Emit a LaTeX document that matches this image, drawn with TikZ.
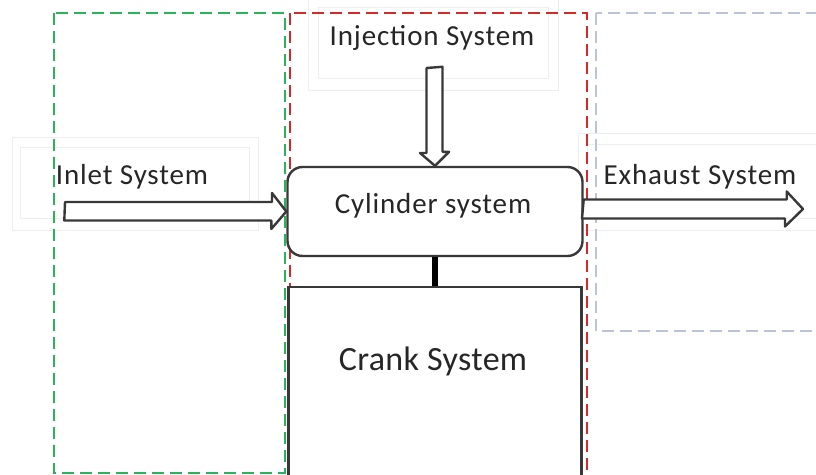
\documentclass[tikz,border=0pt]{standalone}
\usepackage{fontspec}
\setmainfont{Carlito}
\definecolor{grn}{HTML}{2BB35A}
\definecolor{redd}{HTML}{D22A2A}
\definecolor{gblue}{HTML}{BAC4D6}
\definecolor{txt}{HTML}{262626}
\definecolor{faint}{HTML}{EEEEEE}
\tikzset{
  zone/.style={line width=2.6pt, dash pattern=on 12pt off 6pt},
  faintbox/.style={draw=faint, line width=0.8pt},
  blockbox/.style={draw=black!78, line width=2.4pt, fill=white},
  hollow/.style={draw=black!78, line width=2.4pt, fill=white, line join=round},
  lbl/.style={text=txt, font=\fontsize{29}{32}\selectfont\addfontfeature{LetterSpace=3}, inner sep=0pt, anchor=base},
  biglbl/.style={text=txt, font=\fontsize{34}{38}\selectfont\addfontfeature{LetterSpace=1}, inner sep=0pt, anchor=base}
}
\begin{document}
\begin{tikzpicture}[x=1pt,y=-1pt]
\useasboundingbox (0,0) rectangle (816,474);
\clip (0,0) rectangle (816,474);
% faint text frames
\draw[faintbox] (12,137) rectangle (258,230);
\draw[faintbox] (20,147) rectangle (249,218);
\draw[faintbox] (308,-2) rectangle (558,90);
\draw[faintbox] (318,7) rectangle (548,78);
\draw[faintbox] (578,133) rectangle (830,230);
\draw[faintbox] (587,144) rectangle (830,218);
% zones
\draw[zone, draw=grn] (54,13) rectangle (285,473);
\draw[zone, draw=redd] (290,13) rectangle (587,480);
\draw[zone, draw=gblue] (596,13) rectangle (830,331);
% blocks
\node[blockbox, rounded corners=15pt, minimum width=295pt, minimum height=89pt, inner sep=0pt] (cyl) at (435,211.5) {};
\node[blockbox, minimum width=293pt, minimum height=200pt, inner sep=0pt, anchor=north] (crank) at (435,286) {};
\draw[line width=6pt, black] (cyl.south) -- (crank.north);
% labels
\node[lbl] (cyllbl) at (433,213) {Cylinder system};
\node[biglbl] (cranklbl) at (433,370) {Crank System};
\node[lbl] (inlet) at (132,184) {Inlet System};
\node[lbl] (inj) at (432,45) {Injection System};
\node[lbl] (exh) at (700,184) {Exhaust System};
% injection arrow
\coordinate (injtail) at (434,68);
\draw[hollow] (injtail) ++(-7.5,0) -- ++(0,85) -- ++(-6.5,0) -- (cyl.north) -- ++(14,-14) -- ++(-6.5,0) -- ++(0,-85) -- cycle;
% inlet arrow
\coordinate (intail) at (65,211);
\draw[hollow] (intail) ++(0,-9) -- ++(207,0) -- ++(0,-9) -- (cyl.west) -- ++(-15,17.5) -- ++(0,-8.5) -- ++(-207,0) -- cycle;
% exhaust arrow
\coordinate (exhead) at (803,209);
\draw[hollow] (cyl.east |- exhead) ++(0,-9.5) -- ++(203,0) -- ++(0,-8) -- (exhead) -- ++(-18,17.5) -- ++(0,-8) -- ++(-203,0) -- cycle;
\end{tikzpicture}
\end{document}
